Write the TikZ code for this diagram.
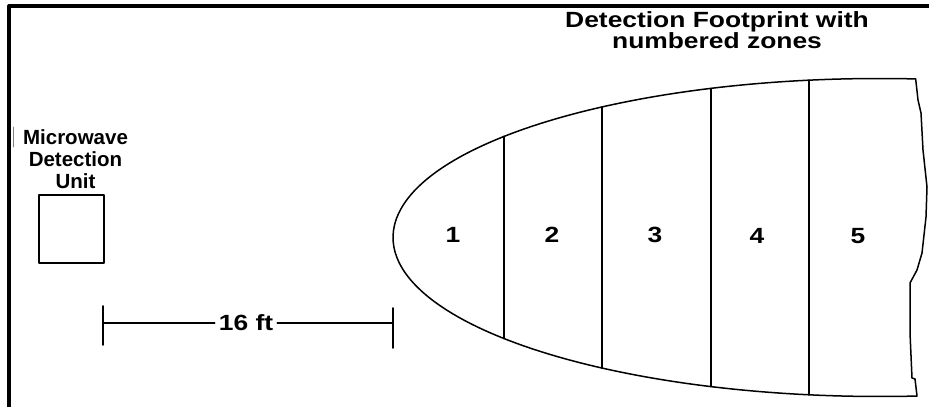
\documentclass[tikz,border=0pt]{standalone}
\usepackage{fontspec}
\setmainfont{Liberation Sans}
\newfontfamily\winfont[FakeStretch=1.2]{Liberation Sans}

\begin{document}
\begin{tikzpicture}[x=1pt, y=-1pt, line cap=round, line join=round,
  unitlbl/.style={font=\bfseries\fontsize{20.5}{22}\selectfont, align=center, inner sep=0pt},
  winlbl/.style={font=\winfont\bfseries\fontsize{22}{21}\selectfont, align=center, inner sep=0pt}]
  \def\cx{880}
  \def\cy{237.5}
  \def\ra{487}
  \def\rb{159}

  \useasboundingbox (0,0) rectangle (929,407);

  % cornice
  \draw[line width=3.2pt, line cap=butt] (9,407) -- (9,6) -- (929,6);
  \draw[gray, line width=0.7pt] (13,127) -- (13,147);

  % unita' a microonde
  \node[unitlbl] (unitlbl) at (75.5,159) {Microwave\\Detection\\Unit};
  \node[draw, line width=1.7pt, minimum width=65pt, minimum height=68pt, inner sep=0pt]
    (unit) at (71.5,229) {};

  % distanza
  \coordinate (dL) at (103,323);
  \coordinate (dR) at (393,323);
  \node[winlbl, inner xsep=4pt] (dist) at (246,323) {16 ft};
  \draw[line width=1.6pt] (dL) -- (dist);
  \draw[line width=1.6pt] (dist) -- (dR);
  \draw[line width=1.6pt] (103,306) -- (103,345);
  \draw[line width=1.6pt] (393,308) -- (393,348);

  % impronta
  \draw[line width=1.5pt]
    ({\cx+\ra*cos(85.8)},{\cy-\rb*sin(85.8)})
    arc[start angle=-85.8, end angle=-274.2, x radius=\ra, y radius=\rb]
    -- (917,396) -- (915,379) -- (912,378) -- (910,333) -- (910,283)
    -- (917,270) -- (922,253) -- (926,217) -- (927,187) -- (923,150)
    -- (921,113) -- (918,100) -- cycle;

  % zone
  \foreach \t in {140.5,124.8,110.3,98.4}
    \draw[line width=1.6pt] ({\cx+\ra*cos(\t)},{\cy-\rb*sin(\t)})
      -- ({\cx+\ra*cos(\t)},{\cy+\rb*sin(\t)});

  \node[winlbl] (z1) at (453,235) {1};
  \node[winlbl] (z2) at (552,235) {2};
  \node[winlbl] (z3) at (655,235) {3};
  \node[winlbl] (z4) at (757,236) {4};
  \node[winlbl] (z5) at (858,236) {5};

  \node[winlbl] (title) at (717,30.5) {Detection Footprint with\\numbered zones};
\end{tikzpicture}
\end{document}
